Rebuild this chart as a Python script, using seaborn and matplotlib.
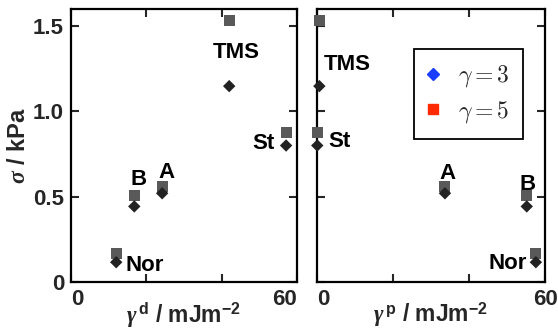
import matplotlib
matplotlib.use("Agg")
import matplotlib.pyplot as plt
import seaborn as sns
import pandas as pd
from matplotlib.lines import Line2D

sns.set_theme(style="ticks")
plt.rcParams['font.family'] = ['Liberation Sans', 'DejaVu Sans']
plt.rcParams['font.weight'] = 'bold'
plt.rcParams['mathtext.fontset'] = 'custom'
plt.rcParams['mathtext.rm'] = 'Liberation Sans:bold'
plt.rcParams['mathtext.bf'] = 'Liberation Sans:bold'
plt.rcParams['mathtext.it'] = 'Liberation Serif:italic:bold'

# data
samples = ["Nor", "B", "A", "TMS", "St"]
gamma_d = [12, 16.8, 24.2, 42.0, 57.1]
gamma_p = [57.6, 55.2, 33.7, 0.7, 0.15]
sigma_g3 = [0.116, 0.443, 0.52, 1.148, 0.80]
sigma_g5 = [0.165, 0.505, 0.558, 1.533, 0.878]
xticks = [0, 20, 40, 60]
xticklabels = ["0", "", "", "60"]
yticks = [0, 0.5, 1.0, 1.5]
yticklabels = ["0", "0.5", "1.0", "1.5"]
legend_labels = [r"$\gamma = 3$", r"$\gamma = 5$"]

df = pd.DataFrame({"sample": samples, "gd": gamma_d, "gp": gamma_p,
                   "s3": sigma_g3, "s5": sigma_g5})

W, H = 558, 331
fig = plt.figure(figsize=(W / 100, H / 100), dpi=100)
ax1 = fig.add_axes([71 / W, 49 / H, 226 / W, 273 / H])
ax2 = fig.add_axes([316.7 / W, 49 / H, 228.3 / W, 273 / H])

sq_color = "#595959"
dia_color = "#222222"

offsets_left = {"Nor": (9, -3, "left"), "B": (4, 27, "center"), "A": (4, 21, "center"),
                "TMS": (7, 34, "center"), "St": (-11, 2, "right")}
offsets_right = {"Nor": (-9, -1, "right"), "B": (1, 22, "center"), "A": (3, 20, "center"),
                 "TMS": (4, 22, "left"), "St": (11, 4, "left")}

FS = 16
for ax, xcol, offs in [(ax1, "gd", offsets_left), (ax2, "gp", offsets_right)]:
    sns.scatterplot(data=df, x=xcol, y="s5", ax=ax, marker="s", s=64,
                    color=sq_color, edgecolor="none", zorder=3, clip_on=False)
    sns.scatterplot(data=df, x=xcol, y="s3", ax=ax, marker="D", s=40,
                    color=dia_color, edgecolor="none", zorder=4, clip_on=False)
    for _, r in df.iterrows():
        dx, dy, ha = offs[r["sample"]]
        ax.annotate(r["sample"], (r[xcol], r["s3"]), xytext=(dx, dy),
                    textcoords="offset pixels", ha=ha, va="center",
                    fontsize=FS, fontweight="bold", color="black")
    ax.set_xlim(0, 60)
    ax.set_ylim(0, 1.6)
    ax.set_xticks(xticks)
    ax.set_xticklabels(xticklabels)
    ax.set_yticks(yticks)
    ax.tick_params(direction="in", length=6, width=1.5, top=True, right=True,
                   labelsize=FS, pad=5)
    for sp in ax.spines.values():
        sp.set_linewidth(1.6)
        sp.set_color("black")
    for lbl in ax.get_xticklabels() + ax.get_yticklabels():
        lbl.set_fontweight("bold")

ax1.set_yticklabels(yticklabels)
ax2.set_yticklabels([])
xl1 = ax1.get_xticklabels()
xl1[0].set_ha("left")
xl1[-1].set_ha("right")
xl2 = ax2.get_xticklabels()
xl2[0].set_ha("left")

ax1.set_ylabel(r"$\sigma$ / kPa", fontsize=17, fontweight="bold", labelpad=2)
ax1.set_xlabel(r"$\gamma^{\,\mathrm{d}}$ / mJm$^{-2}$", fontsize=16.5, fontweight="bold", labelpad=-7)
ax2.set_xlabel(r"$\gamma^{\,\mathrm{p}}$ / mJm$^{-2}$", fontsize=16.5, fontweight="bold", labelpad=-7)
ax2.set_ylabel("")

handles = [Line2D([], [], marker="D", color="#1a3cff", linestyle="none", markersize=6),
           Line2D([], [], marker="s", color="#ff2a00", linestyle="none", markersize=7.2)]
leg = ax2.legend(handles, legend_labels, loc="upper left", bbox_to_anchor=(0.426, 0.853),
                 frameon=True, fancybox=False, edgecolor="black", framealpha=1,
                 prop={"size": 17, "math_fontfamily": "cm"}, handletextpad=0.85,
                 borderpad=0.6, labelspacing=0.4, handlelength=0.4, borderaxespad=0)
leg.get_frame().set_linewidth(1.3)

fig.savefig("out.png", dpi=100)
